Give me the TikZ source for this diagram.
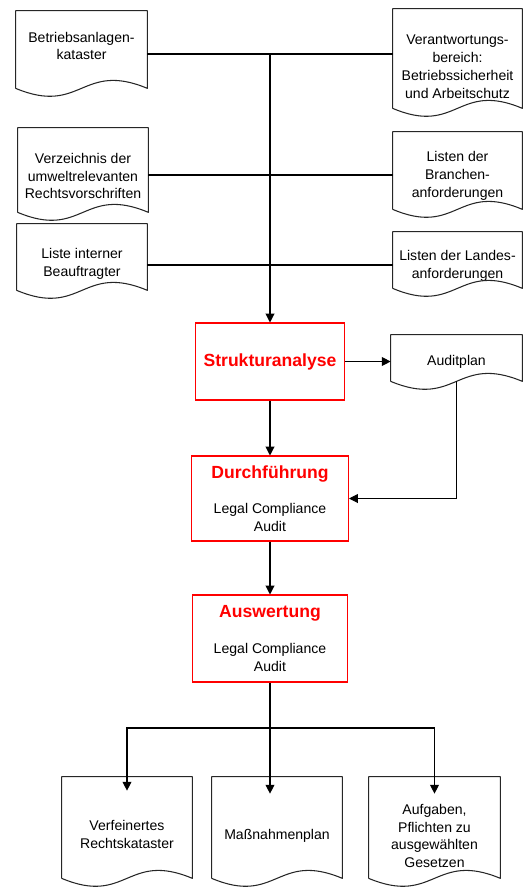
\documentclass[tikz,border=0pt]{standalone}
\usepackage{fontspec}
\setmainfont{Liberation Sans}
\usepackage{xcolor}
\usepackage{tikz}
\usetikzlibrary{arrows.meta, positioning, calc}

\newcommand{\titel}[1]{{\fontsize{10}{12}\selectfont\bfseries\color{red}#1}}
% outline of a document symbol round a named node (optional: extra room on top)
\newcommand{\docshape}[2][0pt]{%
  \draw[docline] (#2.south west) -- ([yshift=#1]#2.north west) -- ([yshift=#1]#2.north east) -- (#2.south east)
    .. controls ($(#2.south)+(0,0.55cm)$) and ($(#2.south)+(0,-0.55cm)$) .. (#2.south west);}

\begin{document}
\begin{tikzpicture}[
  x=0.02cm, y=-0.02cm,
  doc/.style={rectangle, inner sep=0pt, align=center,
              font=\fontsize{8}{10.2}\selectfont},
  docline/.style={draw=black!85, line width=0.6pt, line join=round},
  redbox/.style={rectangle, draw=red, line width=0.6pt, inner sep=0pt,
                 align=center, font=\fontsize{8}{10.2}\selectfont},
  arr/.style={-{Triangle[length=5pt,width=5pt]}, line width=0.6pt}
]
\useasboundingbox (0,0) rectangle (523,890);

% Sources
\node[doc, minimum width=2.62cm, minimum height=1.68cm] (betr) at (81.5,46)
  {Betriebsanlagen-\\kataster};
\node[doc, minimum width=2.58cm, minimum height=1.64cm] (verant) at (457.5,67)
  {Verantwortungs-\\bereich:\\Betriebssicherheit\\und Arbeitschutz};
\node[doc, minimum width=2.60cm, minimum height=1.44cm] (verz) at (83,176)
  {Verzeichnis der\\umweltrelevanten\\Rechtsvorschriften};
\node[doc, minimum width=2.58cm, minimum height=1.32cm] (branch) at (457.5,176)
  {Listen der\\Branchen-\\anforderungen};
\node[doc, minimum width=2.60cm, minimum height=1.04cm] (liste) at (82,264)
  {Liste interner\\Beauftragter};
\node[doc, minimum width=2.58cm, minimum height=0.88cm] (landes) at (457.5,266)
  {Listen der Landes-\\anforderungen};
\foreach \n/\e in {betr/-0.14cm, verant/0.34cm, verz/0.24cm, branch/0.22cm,
                   liste/0.28cm, landes/0.24cm} {\docshape[\e]{\n}}

% Steps
\node[redbox, minimum width=2.98cm, minimum height=1.54cm] (struk) at (270,361.5)
  {\titel{Strukturanalyse}};
\node[redbox, minimum width=3.14cm, minimum height=1.70cm] (durch) at (270,498.5)
  {\titel{Durchführung}\\[10pt]Legal Compliance\\Audit};
\node[redbox, minimum width=3.10cm, minimum height=1.74cm] (ausw) at (270,638.5)
  {\titel{Auswertung}\\[10pt]Legal Compliance\\Audit};
\node[doc, minimum width=2.62cm, minimum height=0.76cm] (audit) at (456.5,362)
  {Auditplan};
\docshape[0.16cm]{audit}

% Results
\node[doc, minimum width=2.60cm, minimum height=1.74cm] (verf) at (127,834.5)
  {Verfeinertes\\Rechtskataster};
\node[doc, minimum width=2.60cm, minimum height=1.68cm] (mass) at (277,836)
  {Maßnahmenplan};
\node[doc, minimum width=2.62cm, minimum height=1.68cm] (aufg) at (434.5,836)
  {Aufgaben,\\Pflichten zu\\ausgewählten\\Gesetzen};
\foreach \n/\e in {verf/0.28cm, mass/0.34cm, aufg/0.34cm} {\docshape[\e]{\n}}

% Connectors
\coordinate (j1) at (270,54);
\coordinate (j2) at (270,175);
\coordinate (j3) at (270,265);
\coordinate (br) at (270,728);
\draw[line width=0.6pt] (betr.east |- j1) -- (verant.west |- j1);
\draw[line width=0.6pt] (verz.east |- j2) -- (branch.west |- j2);
\draw[line width=0.6pt] (liste.east |- j3) -- (landes.west |- j3);
\draw[arr] (j1) -- (struk.north);
\draw[arr] (struk.east) -- (struk.east -| audit.west);
\draw[arr] (audit.south) |- (durch.east);
\draw[arr] (struk) -- (durch);
\draw[arr] (durch) -- (ausw);
\draw[line width=0.6pt] (ausw.south) -- (br);
\draw[arr] (br) -- (br |- mass.north);
\draw[arr] (br) -| (verf.north);
\draw[arr] (br) -| (aufg.north);
\end{tikzpicture}
\end{document}
